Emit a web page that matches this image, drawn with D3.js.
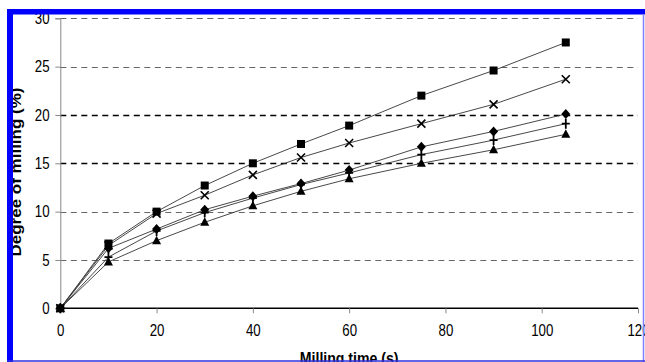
<!DOCTYPE html>
<html>
<head>
<meta charset="utf-8">
<script src="https://cdn.jsdelivr.net/npm/d3@7"></script>
<style>
  html, body { margin: 0; padding: 0; background: #fff; }
  svg { display: block; font-family: "Liberation Sans", Arial, sans-serif; }
</style>
</head>
<body>
<svg id="chart" width="645" height="362"></svg>
<script>
// data
const times    = [0, 10, 20, 30, 40, 50, 60, 75, 90, 105];
const squares  = [0, 6.7, 10.0, 12.7, 15.0, 17.0, 18.9, 22.0, 24.6, 27.5];
const crosses  = [0, 6.5, 9.8, 11.7, 13.8, 15.6, 17.1, 19.1, 21.1, 23.7];
const diamonds = [0, 6.2, 8.2, 10.2, 11.6, 12.9, 14.3, 16.7, 18.3, 20.1];
const pluses   = [0, 5.3, 8.0, 9.9, 11.4, 12.8, 14.0, 15.9, 17.4, 19.1];
const triangles= [0, 4.8, 7.0, 8.9, 10.6, 12.1, 13.4, 15.0, 16.4, 18.0];
const xTicks = [0, 20, 40, 60, 80, 100, 120];
const yTicks = [0, 5, 10, 15, 20, 25, 30];
const darkGrid = [15, 20];

const series = [
  {vals: triangles, sym: 'triangle'},
  {vals: pluses,    sym: 'plus'},
  {vals: diamonds,  sym: 'diamond'},
  {vals: crosses,   sym: 'cross'},
  {vals: squares,   sym: 'square'}
];

// marker outlines, centred on 0,0
const shapes = {
  triangle: {d: 'M0,-5L4.5,3.5H-4.5Z', fill: true},
  diamond:  {d: 'M0,-5L4.5,0L0,5L-4.5,0Z', fill: true},
  square:   {d: 'M-4,-4H4V4H-4Z', fill: true},
  plus:     {d: 'M-4,0H4M0,-5V5', fill: false, w: 1.8},
  cross:    {d: 'M-4,-4L4,4M-4,4L4,-4', fill: false, w: 1.6}
};

const SQ = 0.83; // the picture is squashed sideways, so is its text
const svg = d3.select('#chart');
const x = d3.scaleLinear().domain([0, 120]).range([60.3, 638]);
const y = d3.scaleLinear().domain([0, 30]).range([308.3, 18.3]);

// gridlines
svg.append('g').selectAll('line').data(yTicks.filter(v => v > 0)).join('line')
  .attr('x1', x(0)).attr('x2', x(120))
  .attr('y1', d => Math.round(y(d)) + 0.5).attr('y2', d => Math.round(y(d)) + 0.5)
  .attr('stroke', d => darkGrid.includes(d) ? '#000' : '#666')
  .attr('stroke-width', d => darkGrid.includes(d) ? 1.4 : 1)
  .attr('stroke-dasharray', '6,4.5');

// y axis
const yAxis = svg.append('g').attr('transform', `translate(${x(0)},0)`)
  .call(d3.axisLeft(y).tickValues(yTicks).tickSize(5));
yAxis.select('.domain').attr('stroke', '#888');
yAxis.selectAll('.tick line').attr('stroke', '#888');
yAxis.selectAll('text').attr('font-size', 16).attr('fill', '#000')
  .attr('font-family', '"Liberation Sans", Arial, sans-serif')
  .attr('x', -13).attr('transform', `scale(${SQ},1)`);

// x axis
const xAxis = svg.append('g').attr('transform', `translate(0,${y(0)})`)
  .call(d3.axisBottom(x).tickValues(xTicks).tickSize(5));
xAxis.select('.domain').attr('stroke', '#000').attr('stroke-width', 1.6)
  .attr('d', `M${x(0)},0H${x(120)}`);
xAxis.selectAll('.tick line').attr('stroke', '#888');
xAxis.selectAll('text').attr('font-size', 16).attr('fill', '#000')
  .attr('font-family', '"Liberation Sans", Arial, sans-serif')
  .attr('y', 28).attr('dy', null).attr('transform', `scale(${SQ},1)`);

// lines
const line = d3.line().x((d, i) => x(times[i])).y(d => y(d));
svg.append('g').selectAll('path').data(series).join('path')
  .attr('d', s => line(s.vals))
  .attr('fill', 'none').attr('stroke', '#333').attr('stroke-width', 0.9);

// markers
series.forEach(s => {
  const sh = shapes[s.sym];
  svg.append('g').selectAll('path').data(s.vals).join('path')
    .attr('d', sh.d)
    .attr('transform', (v, i) => `translate(${x(times[i])},${y(v)})`)
    .attr('fill', sh.fill ? '#000' : 'none')
    .attr('stroke', sh.fill ? 'none' : '#000')
    .attr('stroke-width', sh.w || 0);
});

// axis titles
svg.append('text')
  .attr('transform', `translate(${(x(0) + x(120)) / 2},364) scale(${SQ},1)`)
  .attr('text-anchor', 'middle').attr('font-size', 17).attr('font-weight', 'bold')
  .text('Milling time (s)');
svg.append('text')
  .attr('transform', `translate(20.5,172) scale(${SQ},1) rotate(-90)`)
  .attr('text-anchor', 'middle').attr('font-size', 17).attr('font-weight', 'bold')
  .text('Degree of milling (%)');

// blue frame
svg.append('rect').attr('x', 7).attr('y', 9).attr('width', 6).attr('height', 353).attr('fill', '#0000ff');
svg.append('rect').attr('x', 7).attr('y', 9).attr('width', 638).attr('height', 5.5).attr('fill', '#0000ff');
svg.append('line').attr('x1', 643.5).attr('x2', 643.5).attr('y1', 14).attr('y2', 362)
  .attr('stroke', '#8080ff').attr('stroke-width', 1.5);
svg.append('line').attr('x1', 7).attr('x2', 645).attr('y1', 361).attr('y2', 361)
  .attr('stroke', '#3030e0').attr('stroke-width', 1.5);
</script>
</body>
</html>
